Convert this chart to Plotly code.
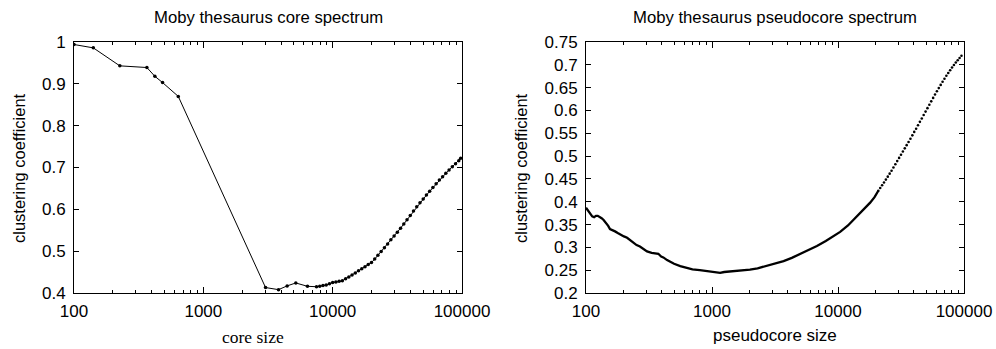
import plotly.graph_objects as go

# ---------------- data ----------------
core_size = [100, 141, 226, 366, 422, 484, 640, 3027, 3813, 4446, 5188, 6385,
             7499, 7943, 8414, 8913, 9441, 10000, 10593, 11220, 11885, 12589, 13335,
             14125, 14962, 15849, 16788, 17783, 18836, 19953, 21135, 22387, 23714,
             25119, 26607, 28184, 29854, 31623, 33497, 35481, 37584, 39811, 42170,
             44668, 47315, 50119, 53088, 56234, 59566, 63096, 66834, 70795, 74989,
             79433, 84140, 89125, 94406, 97700]
core_cc = [0.994, 0.986, 0.943, 0.939, 0.918, 0.903, 0.870, 0.413, 0.408, 0.417, 0.424, 0.416,
           0.415, 0.416, 0.418, 0.419, 0.422, 0.425, 0.426, 0.428, 0.429, 0.434, 0.438,
           0.443, 0.448, 0.453, 0.458, 0.463, 0.468, 0.473, 0.481, 0.490, 0.499,
           0.508, 0.517, 0.527, 0.536, 0.545, 0.555, 0.565, 0.575, 0.585, 0.596,
           0.606, 0.616, 0.625, 0.634, 0.643, 0.652, 0.661, 0.670, 0.678, 0.686,
           0.694, 0.702, 0.709, 0.716, 0.722]

pseudo_size_dense = [100, 104, 108, 112, 116, 120, 124, 128, 133, 138, 144, 150, 155, 162,
                     170, 180, 190, 200, 212, 223, 237, 252, 268, 285, 305, 332, 355, 375,
                     395, 411, 440, 470, 500, 560, 630, 700, 800, 900, 1000, 1100, 1160,
                     1250, 1400, 1600, 1800, 2000, 2300, 2700, 3100, 3700, 4300, 5000,
                     5800, 6800, 8000, 9200, 10400, 12000, 13500, 15000, 16500, 18000,
                     19500, 20893]
pseudo_cc_dense = [0.387, 0.381, 0.375, 0.368, 0.366, 0.369, 0.369, 0.367, 0.364, 0.360,
                   0.354, 0.347, 0.340, 0.338, 0.335, 0.331, 0.327, 0.324, 0.321, 0.316,
                   0.311, 0.305, 0.302, 0.296, 0.291, 0.288, 0.287, 0.286, 0.280, 0.278,
                   0.272, 0.267, 0.264, 0.259, 0.255, 0.252, 0.250, 0.248, 0.246, 0.2445,
                   0.244, 0.246, 0.247, 0.249, 0.250, 0.251, 0.254, 0.259, 0.263, 0.270,
                   0.277, 0.285, 0.293, 0.303, 0.314, 0.325, 0.334, 0.348, 0.362, 0.375,
                   0.387, 0.398, 0.410, 0.424]

pseudo_size_tail = [20893, 21627, 22387, 23174, 23988, 24831, 25704, 26607, 27542, 28510,
                    29512, 30549, 31623, 32734, 33884, 35075, 36308, 37584, 38905, 40272,
                    41687, 43152, 44668, 46238, 47863, 49545, 51286, 53088, 54954, 56885,
                    58884, 60954, 63096, 65313, 67608, 69984, 72444, 74989, 77625, 80353,
                    83176, 86099, 89125, 92257, 95499]
pseudo_cc_tail = [0.424, 0.430, 0.436, 0.442, 0.4485, 0.455, 0.4615, 0.468, 0.475, 0.482,
                  0.489, 0.496, 0.503, 0.510, 0.517, 0.524, 0.531, 0.538, 0.5455, 0.553,
                  0.560, 0.5675, 0.575, 0.5825, 0.590, 0.5975, 0.605, 0.6125, 0.620, 0.6275,
                  0.635, 0.642, 0.649, 0.656, 0.663, 0.6695, 0.676, 0.682, 0.688, 0.694,
                  0.6995, 0.705, 0.710, 0.715, 0.720]

x_tickvals = [100, 1000, 10000, 100000]
x_ticktext = ["100", "1000", "10000", "100000"]
core_yticks = [0.4, 0.5, 0.6, 0.7, 0.8, 0.9, 1.0]
core_yticktext = ["0.4", "0.5", "0.6", "0.7", "0.8", "0.9", "1"]
pseudo_yticks = [0.2, 0.25, 0.3, 0.35, 0.4, 0.45, 0.5, 0.55, 0.6, 0.65, 0.7, 0.75]
pseudo_yticktext = ["0.2", "0.25", "0.3", "0.35", "0.4", "0.45", "0.5", "0.55", "0.6",
                    "0.65", "0.7", "0.75"]

# ---------------- figure ----------------
W, H = 996, 349
SANS = "Liberation Sans, Arial, Helvetica, sans-serif"
SERIF = "Liberation Serif, Times New Roman, serif"

fig = go.Figure()
fig.add_trace(go.Scatter(x=core_size, y=core_cc, mode="lines+markers",
                         line=dict(color="black", width=1),
                         marker=dict(color="black", size=3.5),
                         xaxis="x", yaxis="y", showlegend=False))
fig.add_trace(go.Scatter(x=pseudo_size_dense, y=pseudo_cc_dense, mode="lines",
                         line=dict(color="black", width=2.3),
                         xaxis="x2", yaxis="y2", showlegend=False))
fig.add_trace(go.Scatter(x=pseudo_size_tail, y=pseudo_cc_tail, mode="markers",
                         marker=dict(color="black", size=2.6),
                         xaxis="x2", yaxis="y2", showlegend=False))

ydom = [(H - 293) / H, (H - 42) / H]

axis_common = dict(showline=True, linecolor="black", linewidth=1, mirror="allticks",
                   ticks="inside", tickcolor="black", showgrid=False, zeroline=False,
                   automargin=False,
                   tickfont=dict(family=SANS, size=17, color="black"))

def label(text, x, y, family=SANS, size=16.5, angle=0):
    return dict(text=text, x=x / W, y=1 - y / H, xref="paper", yref="paper",
                showarrow=False, xanchor="center", yanchor="middle", textangle=angle,
                font=dict(family=family, size=size, color="black"))

fig.update_layout(
    width=W, height=H, margin=dict(l=0, r=0, t=0, b=0, autoexpand=False),
    paper_bgcolor="white", plot_bgcolor="white",
    xaxis=dict(type="log", range=[2, 5], domain=[74 / W, 462 / W], anchor="y",
               tickvals=x_tickvals, ticktext=x_ticktext, ticklen=6,
               minor=dict(ticks="inside", ticklen=3, dtick="D1", tickcolor="black"),
               ticklabelstandoff=3, **axis_common),
    yaxis=dict(range=[0.4, 1.0], domain=ydom, anchor="x",
               tickvals=core_yticks, ticktext=core_yticktext, ticklen=5,
               ticklabelstandoff=4, **axis_common),
    xaxis2=dict(type="log", range=[2, 5], domain=[586 / W, 964 / W], anchor="y2",
                tickvals=x_tickvals, ticktext=x_ticktext, ticklen=6,
                minor=dict(ticks="inside", ticklen=3, dtick="D1", tickcolor="black"),
                ticklabelstandoff=3, **axis_common),
    yaxis2=dict(range=[0.2, 0.75], domain=ydom, anchor="x2",
                tickvals=pseudo_yticks, ticktext=pseudo_yticktext, ticklen=5,
                ticklabelstandoff=4, **axis_common),
    annotations=[
        label("Moby thesaurus core spectrum", 268, 17, size=16.7),
        label("Moby thesaurus pseudocore spectrum", 775, 17, size=16.7),
        label("core size", 253, 337, family=SERIF, size=17.5),
        label("pseudocore size", 775, 335, size=17),
        label("clustering coefficient", 19, 168, angle=-90),
        label("clustering coefficient", 521, 168, angle=-90),
    ],
)

fig.write_html("out.html", config={"displayModeBar": False},
               post_script="document.body.style.margin='0';document.body.style.padding='0';")
